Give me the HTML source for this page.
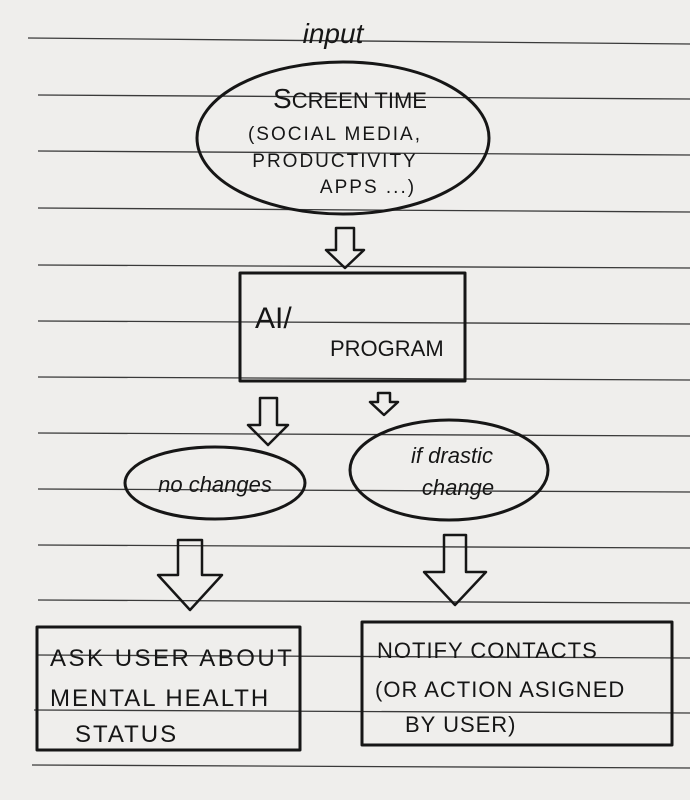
<!DOCTYPE html>
<html><head><style>
html,body{margin:0;padding:0;background:#efeeec;}
svg{display:block}
text{font-family:"Liberation Sans",sans-serif;fill:#161616;}
</style></head><body>
<svg width="690" height="800" viewBox="0 0 690 800">
<rect width="690" height="800" fill="#efeeec"/>
<g stroke="#3a3a3a" stroke-width="1.3">
<line x1="28" y1="38" x2="690" y2="44"/>
<line x1="38" y1="95" x2="690" y2="99"/>
<line x1="38" y1="151" x2="690" y2="155"/>
<line x1="38" y1="208" x2="690" y2="212"/>
<line x1="38" y1="265" x2="690" y2="268"/>
<line x1="38" y1="321" x2="690" y2="324"/>
<line x1="38" y1="377" x2="690" y2="380"/>
<line x1="38" y1="433" x2="690" y2="436"/>
<line x1="38" y1="489" x2="690" y2="492"/>
<line x1="38" y1="545" x2="690" y2="548"/>
<line x1="38" y1="600" x2="690" y2="603"/>
<line x1="36" y1="655" x2="690" y2="658"/>
<line x1="34" y1="710" x2="690" y2="713"/>
<line x1="32" y1="765" x2="690" y2="768"/>
</g>
<g fill="none" stroke="#161616" stroke-width="3" stroke-linejoin="round">
<ellipse cx="343" cy="138" rx="146" ry="76"/>
<rect x="240" y="273" width="225" height="108"/>
<ellipse cx="215" cy="483" rx="90" ry="36"/>
<ellipse cx="449" cy="470" rx="99" ry="50"/>
<rect x="37" y="627" width="263" height="123"/>
<rect x="362" y="622" width="310" height="123"/>
<path d="M336 228 L354 228 L354 250 L364 250 L345 268 L326 250 L336 250 Z" stroke-width="2.5"/>
<path d="M260 398 L277 398 L277 425 L288 425 L268 445 L248 425 L260 425 Z" stroke-width="2.5"/>
<path d="M378 393 L390 393 L390 402 L398 402 L384 415 L370 402 L378 402 Z" stroke-width="2.5"/>
<path d="M178 540 L202 540 L202 575 L222 575 L190 610 L158 575 L178 575 Z" stroke-width="2.5"/>
<path d="M444 535 L466 535 L466 572 L486 572 L455 605 L424 572 L444 572 Z" stroke-width="2.5"/>
</g>
<text x="333" y="43" font-size="28" text-anchor="middle" font-family="Liberation Serif" font-style="italic">input</text>
<text x="350" y="108" font-size="28" text-anchor="middle">S<tspan font-size="22">CREEN TIME</tspan></text>
<text x="335" y="140" font-size="19" text-anchor="middle" letter-spacing="2">(SOCIAL MEDIA,</text>
<text x="335" y="167" font-size="19" text-anchor="middle" letter-spacing="2">PRODUCTIVITY</text>
<text x="368" y="193" font-size="19" text-anchor="middle" letter-spacing="2">APPS ...)</text>
<text x="255" y="328" font-size="30">AI/</text>
<text x="330" y="356" font-size="22">PROGRAM</text>
<text x="215" y="492" font-size="22" text-anchor="middle" font-style="italic">no changes</text>
<text x="452" y="463" font-size="22" text-anchor="middle" font-style="italic">if drastic</text>
<text x="458" y="495" font-size="22" text-anchor="middle" font-style="italic">change</text>
<text x="50" y="666" font-size="24" letter-spacing="2.5">ASK USER ABOUT</text>
<text x="50" y="706" font-size="24" letter-spacing="2">MENTAL HEALTH</text>
<text x="75" y="742" font-size="24" letter-spacing="2">STATUS</text>
<text x="377" y="658" font-size="22" letter-spacing="1">NOTIFY CONTACTS</text>
<text x="375" y="697" font-size="22" letter-spacing="1">(OR ACTION ASIGNED</text>
<text x="405" y="732" font-size="22" letter-spacing="1">BY USER)</text>
</svg>
</body></html>
